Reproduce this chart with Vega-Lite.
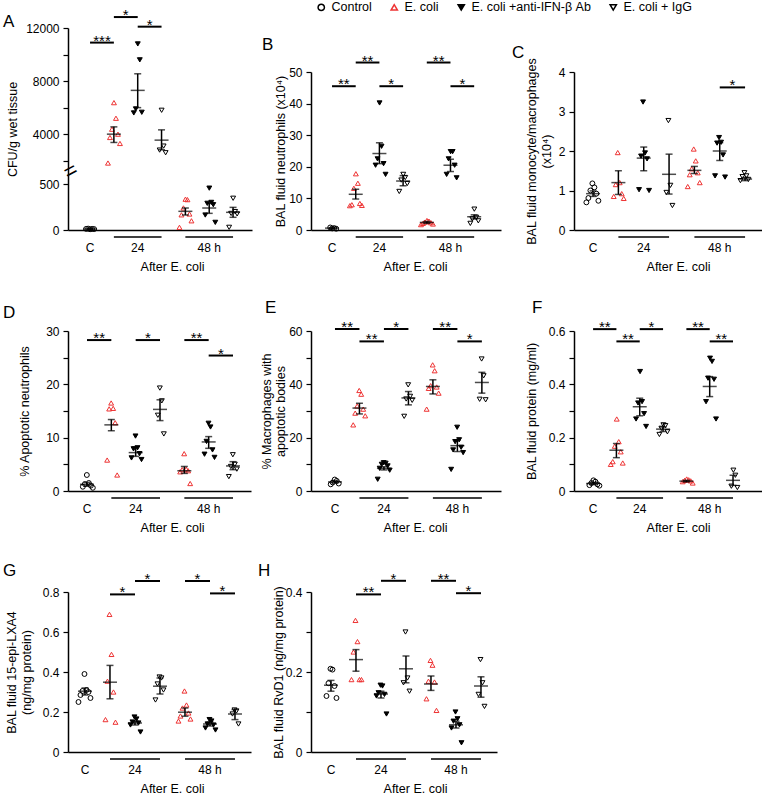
{
"$schema": "https://vega.github.io/schema/vega-lite/v6.json",
"padding": {"left": 3, "top": 1, "right": 0, "bottom": 0},
"datasets": {
"conds": [{"g":"C","cond":"Control"},{"g":"E24","cond":"E. coli"},{"g":"A24","cond":"E. coli +anti-IFN-β Ab"},{"g":"I24","cond":"E. coli + IgG"},{"g":"E48","cond":"E. coli"},{"g":"A48","cond":"E. coli +anti-IFN-β Ab"},{"g":"I48","cond":"E. coli + IgG"}],
"ul": [{"a":"E24","b":"I24"},{"a":"E48","b":"I48"}],
"pts": [
{"p":"A","g":"C","v":8},{"p":"A","g":"C","v":12},{"p":"A","g":"C","v":15},{"p":"A","g":"C","v":10},{"p":"A","g":"C","v":12},
{"p":"A","g":"E24","v":6375},{"p":"A","g":"E24","v":5200},{"p":"A","g":"E24","v":4375},{"p":"A","g":"E24","v":4000},{"p":"A","g":"E24","v":3750},{"p":"A","g":"E24","v":3300},{"p":"A","g":"E24","v":1825},
{"p":"A","g":"A24","v":10800},{"p":"A","g":"A24","v":9600},{"p":"A","g":"A24","v":5900},{"p":"A","g":"A24","v":5650},{"p":"A","g":"A24","v":5600},
{"p":"A","g":"I24","v":5800},{"p":"A","g":"I24","v":3100},{"p":"A","g":"I24","v":2800},{"p":"A","g":"I24","v":2600},
{"p":"A","g":"E48","v":335},{"p":"A","g":"E48","v":330},{"p":"A","g":"E48","v":240},{"p":"A","g":"E48","v":174},{"p":"A","g":"E48","v":165},{"p":"A","g":"E48","v":100},{"p":"A","g":"E48","v":29},
{"p":"A","g":"A48","v":455},{"p":"A","g":"A48","v":300},{"p":"A","g":"A48","v":290},{"p":"A","g":"A48","v":275},{"p":"A","g":"A48","v":163},{"p":"A","g":"A48","v":83},
{"p":"A","g":"I48","v":345},{"p":"A","g":"I48","v":200},{"p":"A","g":"I48","v":180},{"p":"A","g":"I48","v":175},{"p":"A","g":"I48","v":29},
{"p":"B","g":"C","v":0.5},{"p":"B","g":"C","v":0.6},{"p":"B","g":"C","v":0.8},{"p":"B","g":"C","v":0.4},
{"p":"B","g":"E24","v":17.8},{"p":"B","g":"E24","v":14.8},{"p":"B","g":"E24","v":13.2},{"p":"B","g":"E24","v":8.4},{"p":"B","g":"E24","v":8.0},{"p":"B","g":"E24","v":7.8},{"p":"B","g":"E24","v":7.7},
{"p":"B","g":"A24","v":40.2},{"p":"B","g":"A24","v":26.5},{"p":"B","g":"A24","v":22.5},{"p":"B","g":"A24","v":21},{"p":"B","g":"A24","v":20.5},{"p":"B","g":"A24","v":17.6},
{"p":"B","g":"I24","v":17.6},{"p":"B","g":"I24","v":16.6},{"p":"B","g":"I24","v":15.8},{"p":"B","g":"I24","v":14.7},{"p":"B","g":"I24","v":12.2},
{"p":"B","g":"E48","v":3.0},{"p":"B","g":"E48","v":2.8},{"p":"B","g":"E48","v":2.5},{"p":"B","g":"E48","v":2.3},{"p":"B","g":"E48","v":2.1},{"p":"B","g":"E48","v":1.9},{"p":"B","g":"E48","v":1.7},
{"p":"B","g":"A48","v":24.8},{"p":"B","g":"A48","v":24.8},{"p":"B","g":"A48","v":22.5},{"p":"B","g":"A48","v":20.5},{"p":"B","g":"A48","v":17.6},{"p":"B","g":"A48","v":16.5},
{"p":"B","g":"I48","v":6.6},{"p":"B","g":"I48","v":4.0},{"p":"B","g":"I48","v":3.5},{"p":"B","g":"I48","v":2.9},{"p":"B","g":"I48","v":2.1},
{"p":"C","g":"C","v":1.18},{"p":"C","g":"C","v":1.08},{"p":"C","g":"C","v":1.0},{"p":"C","g":"C","v":0.92},{"p":"C","g":"C","v":0.81},{"p":"C","g":"C","v":0.74},{"p":"C","g":"C","v":0.70},
{"p":"C","g":"E24","v":1.96},{"p":"C","g":"E24","v":1.2},{"p":"C","g":"E24","v":1.15},{"p":"C","g":"E24","v":0.92},{"p":"C","g":"E24","v":0.85},{"p":"C","g":"E24","v":0.8},
{"p":"C","g":"A24","v":3.24},{"p":"C","g":"A24","v":1.95},{"p":"C","g":"A24","v":1.87},{"p":"C","g":"A24","v":1.8},{"p":"C","g":"A24","v":1.02},{"p":"C","g":"A24","v":1.0},
{"p":"C","g":"I24","v":2.77},{"p":"C","g":"I24","v":1.13},{"p":"C","g":"I24","v":0.95},{"p":"C","g":"I24","v":0.62},
{"p":"C","g":"E48","v":2.05},{"p":"C","g":"E48","v":1.75},{"p":"C","g":"E48","v":1.55},{"p":"C","g":"E48","v":1.45},{"p":"C","g":"E48","v":1.4},{"p":"C","g":"E48","v":1.2},{"p":"C","g":"E48","v":1.1},
{"p":"C","g":"A48","v":2.34},{"p":"C","g":"A48","v":2.22},{"p":"C","g":"A48","v":2.2},{"p":"C","g":"A48","v":1.9},{"p":"C","g":"A48","v":1.37},{"p":"C","g":"A48","v":1.34},
{"p":"C","g":"I48","v":1.45},{"p":"C","g":"I48","v":1.37},{"p":"C","g":"I48","v":1.35},{"p":"C","g":"I48","v":1.28},{"p":"C","g":"I48","v":1.25},
{"p":"D","g":"C","v":3.0},{"p":"D","g":"C","v":1.5},{"p":"D","g":"C","v":1.3},{"p":"D","g":"C","v":1.0},{"p":"D","g":"C","v":0.8},{"p":"D","g":"C","v":0.6},
{"p":"D","g":"E24","v":16.5},{"p":"D","g":"E24","v":15.5},{"p":"D","g":"E24","v":15.4},{"p":"D","g":"E24","v":12.8},{"p":"D","g":"E24","v":5.8},{"p":"D","g":"E24","v":3.0},
{"p":"D","g":"A24","v":10.3},{"p":"D","g":"A24","v":8.1},{"p":"D","g":"A24","v":7.9},{"p":"D","g":"A24","v":7.0},{"p":"D","g":"A24","v":6.2},{"p":"D","g":"A24","v":5.9},
{"p":"D","g":"I24","v":19.3},{"p":"D","g":"I24","v":16.9},{"p":"D","g":"I24","v":14.2},{"p":"D","g":"I24","v":10.7},
{"p":"D","g":"E48","v":7.0},{"p":"D","g":"E48","v":4.1},{"p":"D","g":"E48","v":4.0},{"p":"D","g":"E48","v":3.8},{"p":"D","g":"E48","v":3.6},{"p":"D","g":"E48","v":1.4},
{"p":"D","g":"A48","v":12.7},{"p":"D","g":"A48","v":12.0},{"p":"D","g":"A48","v":9.3},{"p":"D","g":"A48","v":7.7},{"p":"D","g":"A48","v":6.9},{"p":"D","g":"A48","v":6.3},
{"p":"D","g":"I48","v":6.8},{"p":"D","g":"I48","v":5.0},{"p":"D","g":"I48","v":4.6},{"p":"D","g":"I48","v":4.1},{"p":"D","g":"I48","v":2.7},
{"p":"E","g":"C","v":4.3},{"p":"E","g":"C","v":3.8},{"p":"E","g":"C","v":3.2},{"p":"E","g":"C","v":2.8},{"p":"E","g":"C","v":2.5},
{"p":"E","g":"E24","v":37.7},{"p":"E","g":"E24","v":36.3},{"p":"E","g":"E24","v":31.9},{"p":"E","g":"E24","v":30.7},{"p":"E","g":"E24","v":29.2},{"p":"E","g":"E24","v":28.2},{"p":"E","g":"E24","v":24.8},
{"p":"E","g":"A24","v":10.6},{"p":"E","g":"A24","v":10.4},{"p":"E","g":"A24","v":10.0},{"p":"E","g":"A24","v":9.4},{"p":"E","g":"A24","v":8.5},{"p":"E","g":"A24","v":7.8},{"p":"E","g":"A24","v":4.4},
{"p":"E","g":"I24","v":39.8},{"p":"E","g":"I24","v":35.5},{"p":"E","g":"I24","v":34.5},{"p":"E","g":"I24","v":34.0},{"p":"E","g":"I24","v":28.0},
{"p":"E","g":"E48","v":47.3},{"p":"E","g":"E48","v":45.1},{"p":"E","g":"E48","v":39.5},{"p":"E","g":"E48","v":39.0},{"p":"E","g":"E48","v":38.5},{"p":"E","g":"E48","v":36.7},{"p":"E","g":"E48","v":30.7},
{"p":"E","g":"A48","v":23.9},{"p":"E","g":"A48","v":19.2},{"p":"E","g":"A48","v":18.5},{"p":"E","g":"A48","v":16.4},{"p":"E","g":"A48","v":15.4},{"p":"E","g":"A48","v":14.4},{"p":"E","g":"A48","v":8.1},
{"p":"E","g":"I48","v":49.5},{"p":"E","g":"I48","v":43.2},{"p":"E","g":"I48","v":34.4},{"p":"E","g":"I48","v":34.2},
{"p":"F","g":"C","v":0.04},{"p":"F","g":"C","v":0.035},{"p":"F","g":"C","v":0.03},{"p":"F","g":"C","v":0.025},{"p":"F","g":"C","v":0.022},{"p":"F","g":"C","v":0.02},
{"p":"F","g":"E24","v":0.27},{"p":"F","g":"E24","v":0.185},{"p":"F","g":"E24","v":0.168},{"p":"F","g":"E24","v":0.147},{"p":"F","g":"E24","v":0.11},{"p":"F","g":"E24","v":0.105},{"p":"F","g":"E24","v":0.10},
{"p":"F","g":"A24","v":0.448},{"p":"F","g":"A24","v":0.335},{"p":"F","g":"A24","v":0.33},{"p":"F","g":"A24","v":0.29},{"p":"F","g":"A24","v":0.27},{"p":"F","g":"A24","v":0.242},
{"p":"F","g":"I24","v":0.248},{"p":"F","g":"I24","v":0.245},{"p":"F","g":"I24","v":0.235},{"p":"F","g":"I24","v":0.222},{"p":"F","g":"I24","v":0.212},
{"p":"F","g":"E48","v":0.045},{"p":"F","g":"E48","v":0.042},{"p":"F","g":"E48","v":0.04},{"p":"F","g":"E48","v":0.038},{"p":"F","g":"E48","v":0.035},{"p":"F","g":"E48","v":0.03},
{"p":"F","g":"A48","v":0.498},{"p":"F","g":"A48","v":0.486},{"p":"F","g":"A48","v":0.423},{"p":"F","g":"A48","v":0.419},{"p":"F","g":"A48","v":0.335},{"p":"F","g":"A48","v":0.27},
{"p":"F","g":"I48","v":0.078},{"p":"F","g":"I48","v":0.059},{"p":"F","g":"I48","v":0.018},{"p":"F","g":"I48","v":0.013},
{"p":"G","g":"C","v":0.39},{"p":"G","g":"C","v":0.31},{"p":"G","g":"C","v":0.305},{"p":"G","g":"C","v":0.30},{"p":"G","g":"C","v":0.285},{"p":"G","g":"C","v":0.27},{"p":"G","g":"C","v":0.25},
{"p":"G","g":"E24","v":0.688},{"p":"G","g":"E24","v":0.488},{"p":"G","g":"E24","v":0.354},{"p":"G","g":"E24","v":0.30},{"p":"G","g":"E24","v":0.162},{"p":"G","g":"E24","v":0.149},
{"p":"G","g":"A24","v":0.175},{"p":"G","g":"A24","v":0.165},{"p":"G","g":"A24","v":0.15},{"p":"G","g":"A24","v":0.145},{"p":"G","g":"A24","v":0.135},{"p":"G","g":"A24","v":0.10},
{"p":"G","g":"I24","v":0.375},{"p":"G","g":"I24","v":0.37},{"p":"G","g":"I24","v":0.34},{"p":"G","g":"I24","v":0.31},{"p":"G","g":"I24","v":0.26},
{"p":"G","g":"E48","v":0.305},{"p":"G","g":"E48","v":0.235},{"p":"G","g":"E48","v":0.22},{"p":"G","g":"E48","v":0.195},{"p":"G","g":"E48","v":0.18},{"p":"G","g":"E48","v":0.165},{"p":"G","g":"E48","v":0.155},
{"p":"G","g":"A48","v":0.162},{"p":"G","g":"A48","v":0.155},{"p":"G","g":"A48","v":0.14},{"p":"G","g":"A48","v":0.135},{"p":"G","g":"A48","v":0.12},{"p":"G","g":"A48","v":0.11},
{"p":"G","g":"I48","v":0.21},{"p":"G","g":"I48","v":0.205},{"p":"G","g":"I48","v":0.19},{"p":"G","g":"I48","v":0.14},
{"p":"H","g":"C","v":0.208},{"p":"H","g":"C","v":0.206},{"p":"H","g":"C","v":0.172},{"p":"H","g":"C","v":0.165},{"p":"H","g":"C","v":0.14},{"p":"H","g":"C","v":0.135},
{"p":"H","g":"E24","v":0.329},{"p":"H","g":"E24","v":0.276},{"p":"H","g":"E24","v":0.25},{"p":"H","g":"E24","v":0.181},{"p":"H","g":"E24","v":0.181},{"p":"H","g":"E24","v":0.181},
{"p":"H","g":"A24","v":0.167},{"p":"H","g":"A24","v":0.165},{"p":"H","g":"A24","v":0.148},{"p":"H","g":"A24","v":0.144},{"p":"H","g":"A24","v":0.14},{"p":"H","g":"A24","v":0.095},
{"p":"H","g":"I24","v":0.30},{"p":"H","g":"I24","v":0.185},{"p":"H","g":"I24","v":0.173},{"p":"H","g":"I24","v":0.152},
{"p":"H","g":"E48","v":0.229},{"p":"H","g":"E48","v":0.217},{"p":"H","g":"E48","v":0.177},{"p":"H","g":"E48","v":0.175},{"p":"H","g":"E48","v":0.133},{"p":"H","g":"E48","v":0.104},
{"p":"H","g":"A48","v":0.10},{"p":"H","g":"A48","v":0.083},{"p":"H","g":"A48","v":0.077},{"p":"H","g":"A48","v":0.068},{"p":"H","g":"A48","v":0.06},{"p":"H","g":"A48","v":0.023},
{"p":"H","g":"I48","v":0.231},{"p":"H","g":"I48","v":0.173},{"p":"H","g":"I48","v":0.144},{"p":"H","g":"I48","v":0.114}
],
"st": [
{"p":"A","g":"C","m":11,"lo":9,"hi":13},{"p":"A","g":"E24","m":4000,"lo":3375,"hi":4550},{"p":"A","g":"A24","m":7300,"lo":6000,"hi":8550},{"p":"A","g":"I24","m":3550,"lo":2825,"hi":4325},{"p":"A","g":"E48","m":203,"lo":163,"hi":239},{"p":"A","g":"A48","m":239,"lo":181,"hi":297},{"p":"A","g":"I48","m":192,"lo":138,"hi":246},
{"p":"B","g":"C","m":0.6,"lo":0.5,"hi":0.7},{"p":"B","g":"E24","m":11.3,"lo":9.8,"hi":12.9},{"p":"B","g":"A24","m":24.2,"lo":21.0,"hi":27.6},{"p":"B","g":"I24","m":15.5,"lo":14.0,"hi":17.2},{"p":"B","g":"E48","m":2.4,"lo":2.1,"hi":2.7},{"p":"B","g":"A48","m":20.5,"lo":18.5,"hi":22.4},{"p":"B","g":"I48","m":4.2,"lo":3.5,"hi":4.8},
{"p":"C","g":"C","m":0.92,"lo":0.85,"hi":0.99},{"p":"C","g":"E24","m":1.2,"lo":0.9,"hi":1.5},{"p":"C","g":"A24","m":1.82,"lo":1.5,"hi":2.1},{"p":"C","g":"I24","m":1.41,"lo":0.91,"hi":1.92},{"p":"C","g":"E48","m":1.51,"lo":1.43,"hi":1.61},{"p":"C","g":"A48","m":2.0,"lo":1.76,"hi":2.21},{"p":"C","g":"I48","m":1.29,"lo":1.25,"hi":1.33},
{"p":"D","g":"C","m":1.26,"lo":0.9,"hi":1.6},{"p":"D","g":"E24","m":12.4,"lo":11.3,"hi":13.4},{"p":"D","g":"A24","m":7.2,"lo":6.5,"hi":8.3},{"p":"D","g":"I24","m":15.3,"lo":13.2,"hi":17.1},{"p":"D","g":"E48","m":3.8,"lo":3.3,"hi":4.6},{"p":"D","g":"A48","m":9.2,"lo":8.0,"hi":10.2},{"p":"D","g":"I48","m":4.7,"lo":4.0,"hi":5.5},
{"p":"E","g":"C","m":3.4,"lo":3.0,"hi":3.8},{"p":"E","g":"E24","m":31.1,"lo":28.9,"hi":32.9},{"p":"E","g":"A24","m":8.5,"lo":7.9,"hi":9.1},{"p":"E","g":"I24","m":34.9,"lo":32.3,"hi":37.3},{"p":"E","g":"E48","m":39.2,"lo":36.4,"hi":41.7},{"p":"E","g":"A48","m":17.0,"lo":14.8,"hi":19.2},{"p":"E","g":"I48","m":40.7,"lo":36.7,"hi":44.5},
{"p":"F","g":"C","m":0.028,"lo":0.024,"hi":0.032},{"p":"F","g":"E24","m":0.153,"lo":0.125,"hi":0.178},{"p":"F","g":"A24","m":0.316,"lo":0.282,"hi":0.348},{"p":"F","g":"I24","m":0.232,"lo":0.223,"hi":0.24},{"p":"F","g":"E48","m":0.037,"lo":0.034,"hi":0.04},{"p":"F","g":"A48","m":0.392,"lo":0.354,"hi":0.429},{"p":"F","g":"I48","m":0.04,"lo":0.021,"hi":0.059},
{"p":"G","g":"C","m":0.304,"lo":0.285,"hi":0.32},{"p":"G","g":"E24","m":0.349,"lo":0.266,"hi":0.433},{"p":"G","g":"A24","m":0.145,"lo":0.135,"hi":0.155},{"p":"G","g":"I24","m":0.329,"lo":0.29,"hi":0.37},{"p":"G","g":"E48","m":0.199,"lo":0.179,"hi":0.22},{"p":"G","g":"A48","m":0.14,"lo":0.13,"hi":0.15},{"p":"G","g":"I48","m":0.19,"lo":0.162,"hi":0.212},
{"p":"H","g":"C","m":0.167,"lo":0.152,"hi":0.179},{"p":"H","g":"E24","m":0.231,"lo":0.202,"hi":0.256},{"p":"H","g":"A24","m":0.145,"lo":0.135,"hi":0.152},{"p":"H","g":"I24","m":0.208,"lo":0.173,"hi":0.24},{"p":"H","g":"E48","m":0.17,"lo":0.154,"hi":0.19},{"p":"H","g":"A48","m":0.068,"lo":0.06,"hi":0.077},{"p":"H","g":"I48","m":0.165,"lo":0.137,"hi":0.188}
],
"sig": [
{"p":"A","g1":"C","g2":"E24","y":10900,"s":"***"},{"p":"A","g1":"E24","g2":"A24","y":12825,"s":"*"},{"p":"A","g1":"A24","g2":"I24","y":12100,"s":"*"},
{"p":"B","g1":"C","g2":"E24","y":45.5,"s":"**"},{"p":"B","g1":"E24","g2":"A24","y":53,"s":"**"},{"p":"B","g1":"A24","g2":"I24","y":45.5,"s":"*"},{"p":"B","g1":"E48","g2":"A48","y":53,"s":"**"},{"p":"B","g1":"A48","g2":"I48","y":45.5,"s":"*"},
{"p":"C","g1":"A48","g2":"I48","y":3.61,"s":"*"},
{"p":"D","g1":"C","g2":"E24","y":28.3,"s":"**"},{"p":"D","g1":"A24","g2":"I24","y":28.3,"s":"*"},{"p":"D","g1":"E48","g2":"A48","y":28.3,"s":"**"},{"p":"D","g1":"A48","g2":"I48","y":25.4,"s":"*"},
{"p":"E","g1":"C","g2":"E24","y":60.75,"s":"**"},{"p":"E","g1":"E24","g2":"A24","y":56.1,"s":"**"},{"p":"E","g1":"A24","g2":"I24","y":60.75,"s":"*"},{"p":"E","g1":"E48","g2":"A48","y":60.75,"s":"**"},{"p":"E","g1":"A48","g2":"I48","y":56.1,"s":"*"},
{"p":"F","g1":"C","g2":"E24","y":0.607,"s":"**"},{"p":"F","g1":"E24","g2":"A24","y":0.561,"s":"**"},{"p":"F","g1":"A24","g2":"I24","y":0.607,"s":"*"},{"p":"F","g1":"E48","g2":"A48","y":0.607,"s":"**"},{"p":"F","g1":"A48","g2":"I48","y":0.561,"s":"**"},
{"p":"G","g1":"E24","g2":"A24","y":0.788,"s":"*"},{"p":"G","g1":"A24","g2":"I24","y":0.855,"s":"*"},{"p":"G","g1":"E48","g2":"A48","y":0.855,"s":"*"},{"p":"G","g1":"A48","g2":"I48","y":0.793,"s":"*"},
{"p":"H","g1":"E24","g2":"A24","y":0.394,"s":"**"},{"p":"H","g1":"A24","g2":"I24","y":0.428,"s":"*"},{"p":"H","g1":"E48","g2":"A48","y":0.428,"s":"**"},{"p":"H","g1":"A48","g2":"I48","y":0.397,"s":"*"}
]
},
"columns": 3,
"spacing": {"row": 101, "column": 0},
"bounds": "flush",
"concat": [
{"width": 243, "height": 202,
 "title": {"text": "A", "dx": -65, "offset": -23},
 "encoding": {"x": {"field": "g", "type": "nominal", "scale": {"domain": ["C","E24","A24","I24","E48","A48","I48"], "range": [0,184], "paddingInner": 0, "paddingOuter": 0.36, "align": 0.59}, "axis": {"title": "After E. coli", "titleX": 104, "ticks": false, "labelPadding": 12.5, "titlePadding": 7, "labelAngle": 0, "labelOverlap": false, "labelExpr": "datum.value=='C'?'C':datum.value=='A24'?'24':datum.value=='A48'?'48 h':''"}}},
 "layer": [
  {"data": {"name": "pts"}, "transform": [{"filter": "datum.p=='A'"}, {"window": [{"op": "row_number", "as": "k"}], "groupby": ["g"]}, {"lookup": "g", "from": {"data": {"name": "conds"}, "key": "g", "fields": ["cond"]}}],
   "mark": {"type": "point", "size": 24, "strokeWidth": 1, "opacity": 1},
   "encoding": {
    "xOffset": {"field": "k", "type": "nominal", "scale": {"type": "point", "domain": [7,5,3,1,2,4,6], "range": [6,18], "padding": 0}},
    "y": {"field": "v", "type": "quantitative", "scale": {"domain": [0,500,1300,12000], "range": [202,156,142,0], "nice": false, "zero": false}, "axis": {"title": "CFU/g wet tissue", "titlePadding": 6, "tickCount": 30, "values": [0,500,2000,4000,6000,8000,10000,12000], "format": "d", "labelOverlap": false, "labelExpr": "indexof([2000,6000,10000], datum.value) >= 0 ? '' : datum.label"}},
    "shape": {"field": "cond", "type": "nominal", "scale": {"domain": ["Control","E. coli","E. coli +anti-IFN-β Ab","E. coli + IgG"], "range": ["circle","triangle-up","triangle-down","triangle-down"]}, "legend": {"title": null, "orient": "none", "legendX": 247, "legendY": -27, "direction": "horizontal", "columns": 4}},
    "stroke": {"field": "cond", "type": "nominal", "scale": {"domain": ["Control","E. coli","E. coli +anti-IFN-β Ab","E. coli + IgG"], "range": ["#000000","#ee3333","#000000","#000000"]}, "legend": {"title": null, "orient": "none", "legendX": 247, "legendY": -27, "direction": "horizontal", "columns": 4}},
    "fill": {"field": "cond", "type": "nominal", "scale": {"domain": ["Control","E. coli","E. coli +anti-IFN-β Ab","E. coli + IgG"], "range": ["transparent","transparent","#000000","transparent"]}, "legend": {"title": null, "orient": "none", "legendX": 247, "legendY": -27, "direction": "horizontal", "columns": 4}}
   }},
  {"data": {"name": "st"}, "transform": [{"filter": "datum.p=='A'"}], "mark": {"type": "tick", "size": 14, "thickness": 1.5, "color": "#000"}, "encoding": {"y": {"field": "m", "type": "quantitative"}}},
  {"data": {"name": "st"}, "transform": [{"filter": "datum.p=='A'"}], "mark": {"type": "rule", "strokeWidth": 1.5, "color": "#000"}, "encoding": {"y": {"field": "lo", "type": "quantitative"}, "y2": {"field": "hi"}}},
  {"data": {"name": "st"}, "transform": [{"filter": "datum.p=='A'"}], "mark": {"type": "tick", "size": 7, "thickness": 1.5, "color": "#000"}, "encoding": {"y": {"field": "lo", "type": "quantitative"}}},
  {"data": {"name": "st"}, "transform": [{"filter": "datum.p=='A'"}], "mark": {"type": "tick", "size": 7, "thickness": 1.5, "color": "#000"}, "encoding": {"y": {"field": "hi", "type": "quantitative"}}},
  {"data": {"name": "sig"}, "transform": [{"filter": "datum.p=='A'"}], "mark": {"type": "rule", "strokeWidth": 2, "color": "#000", "clip": false}, "encoding": {"x": {"field": "g1", "type": "nominal"}, "x2": {"field": "g2"}, "y": {"field": "y", "type": "quantitative"}}},
  {"data": {"name": "sig"}, "transform": [{"filter": "datum.p=='A'"}], "mark": {"type": "text", "fontSize": 15, "baseline": "alphabetic", "dy": 3, "color": "#000", "clip": false}, "encoding": {"x": {"field": "g1", "type": "nominal", "bandPosition": 1}, "y": {"field": "y", "type": "quantitative"}, "text": {"field": "s"}}},
  {"data": {"name": "ul"}, "mark": {"type": "rule", "strokeWidth": 1.5, "color": "#000", "clip": false}, "encoding": {"x": {"field": "a", "type": "nominal"}, "x2": {"field": "b"}, "y": {"datum": -76}}},
  {"data": {"values": [{}]}, "mark": {"type": "text", "text": "=", "fontSize": 22, "angle": -28, "dx": -22, "color": "#000", "baseline": "middle"}, "encoding": {"x": {"datum": "C"}, "y": {"datum": 2000}}}
 ]},
{"width": 263, "height": 202,
 "title": {"text": "B", "dx": -49, "offset": -25.5},
 "encoding": {"x": {"field": "g", "type": "nominal", "scale": {"domain": ["C","E24","A24","I24","E48","A48","I48"], "range": [0,190], "paddingInner": 0, "paddingOuter": 0.51, "align": 0.38}, "axis": {"title": "After E. coli", "titleX": 104, "ticks": false, "labelPadding": 12.5, "titlePadding": 7, "labelAngle": 0, "labelOverlap": false, "labelExpr": "datum.value=='C'?'C':datum.value=='A24'?'24':datum.value=='A48'?'48 h':''"}}},
 "layer": [
  {"data": {"name": "pts"}, "transform": [{"filter": "datum.p=='B'"}, {"window": [{"op": "row_number", "as": "k"}], "groupby": ["g"]}, {"lookup": "g", "from": {"data": {"name": "conds"}, "key": "g", "fields": ["cond"]}}],
   "mark": {"type": "point", "size": 24, "strokeWidth": 1, "opacity": 1},
   "encoding": {
    "xOffset": {"field": "k", "type": "nominal", "scale": {"type": "point", "domain": [7,5,3,1,2,4,6], "range": [6,18], "padding": 0}},
    "y": {"field": "v", "type": "quantitative", "scale": {"domain": [0,50], "range": [202,44], "nice": false, "zero": false}, "axis": {"title": "BAL fluid neutrophils (x10⁴)", "titlePadding": 1, "tickCount": 30, "values": [0,10,20,30,40,50]}},
    "shape": {"field": "cond", "type": "nominal", "scale": {"domain": ["Control","E. coli","E. coli +anti-IFN-β Ab","E. coli + IgG"], "range": ["circle","triangle-up","triangle-down","triangle-down"]}, "legend": {"title": null, "orient": "none", "legendX": 247, "legendY": -27, "direction": "horizontal", "columns": 4}},
    "stroke": {"field": "cond", "type": "nominal", "scale": {"domain": ["Control","E. coli","E. coli +anti-IFN-β Ab","E. coli + IgG"], "range": ["#000000","#ee3333","#000000","#000000"]}, "legend": {"title": null, "orient": "none", "legendX": 247, "legendY": -27, "direction": "horizontal", "columns": 4}},
    "fill": {"field": "cond", "type": "nominal", "scale": {"domain": ["Control","E. coli","E. coli +anti-IFN-β Ab","E. coli + IgG"], "range": ["transparent","transparent","#000000","transparent"]}, "legend": {"title": null, "orient": "none", "legendX": 247, "legendY": -27, "direction": "horizontal", "columns": 4}}
   }},
  {"data": {"name": "st"}, "transform": [{"filter": "datum.p=='B'"}], "mark": {"type": "tick", "size": 14, "thickness": 1.5, "color": "#000"}, "encoding": {"y": {"field": "m", "type": "quantitative"}}},
  {"data": {"name": "st"}, "transform": [{"filter": "datum.p=='B'"}], "mark": {"type": "rule", "strokeWidth": 1.5, "color": "#000"}, "encoding": {"y": {"field": "lo", "type": "quantitative"}, "y2": {"field": "hi"}}},
  {"data": {"name": "st"}, "transform": [{"filter": "datum.p=='B'"}], "mark": {"type": "tick", "size": 7, "thickness": 1.5, "color": "#000"}, "encoding": {"y": {"field": "lo", "type": "quantitative"}}},
  {"data": {"name": "st"}, "transform": [{"filter": "datum.p=='B'"}], "mark": {"type": "tick", "size": 7, "thickness": 1.5, "color": "#000"}, "encoding": {"y": {"field": "hi", "type": "quantitative"}}},
  {"data": {"name": "sig"}, "transform": [{"filter": "datum.p=='B'"}], "mark": {"type": "rule", "strokeWidth": 2, "color": "#000", "clip": false}, "encoding": {"x": {"field": "g1", "type": "nominal"}, "x2": {"field": "g2"}, "y": {"field": "y", "type": "quantitative"}}},
  {"data": {"name": "sig"}, "transform": [{"filter": "datum.p=='B'"}], "mark": {"type": "text", "fontSize": 15, "baseline": "alphabetic", "dy": 3, "color": "#000", "clip": false}, "encoding": {"x": {"field": "g1", "type": "nominal", "bandPosition": 1}, "y": {"field": "y", "type": "quantitative"}, "text": {"field": "s"}}},
  {"data": {"name": "ul"}, "mark": {"type": "rule", "strokeWidth": 1.5, "color": "#000", "clip": false}, "encoding": {"x": {"field": "a", "type": "nominal"}, "x2": {"field": "b"}, "y": {"datum": -2.2}}}
 ]},
{"width": 188, "height": 202,
 "title": {"text": "C", "dx": -62, "offset": -34},
 "encoding": {"x": {"field": "g", "type": "nominal", "scale": {"domain": ["C","E24","A24","I24","E48","A48","I48"], "range": [0,188], "paddingInner": 0, "paddingOuter": 0.21, "align": 0.6}, "axis": {"title": "After E. coli", "titleX": 104, "ticks": false, "labelPadding": 12.5, "titlePadding": 7, "labelAngle": 0, "labelOverlap": false, "labelExpr": "datum.value=='C'?'C':datum.value=='A24'?'24':datum.value=='A48'?'48 h':''"}}},
 "layer": [
  {"data": {"name": "pts"}, "transform": [{"filter": "datum.p=='C'"}, {"window": [{"op": "row_number", "as": "k"}], "groupby": ["g"]}, {"lookup": "g", "from": {"data": {"name": "conds"}, "key": "g", "fields": ["cond"]}}],
   "mark": {"type": "point", "size": 24, "strokeWidth": 1, "opacity": 1},
   "encoding": {
    "xOffset": {"field": "k", "type": "nominal", "scale": {"type": "point", "domain": [7,5,3,1,2,4,6], "range": [6,18], "padding": 0}},
    "y": {"field": "v", "type": "quantitative", "scale": {"domain": [0,4], "range": [202,44], "nice": false, "zero": false}, "axis": {"title": ["BAL fluid monocyte/macrophages","(x10⁴)"], "titlePadding": 5, "tickCount": 30, "values": [0,1,2,3,4], "format": "d"}},
    "shape": {"field": "cond", "type": "nominal", "scale": {"domain": ["Control","E. coli","E. coli +anti-IFN-β Ab","E. coli + IgG"], "range": ["circle","triangle-up","triangle-down","triangle-down"]}, "legend": {"title": null, "orient": "none", "legendX": 247, "legendY": -27, "direction": "horizontal", "columns": 4}},
    "stroke": {"field": "cond", "type": "nominal", "scale": {"domain": ["Control","E. coli","E. coli +anti-IFN-β Ab","E. coli + IgG"], "range": ["#000000","#ee3333","#000000","#000000"]}, "legend": {"title": null, "orient": "none", "legendX": 247, "legendY": -27, "direction": "horizontal", "columns": 4}},
    "fill": {"field": "cond", "type": "nominal", "scale": {"domain": ["Control","E. coli","E. coli +anti-IFN-β Ab","E. coli + IgG"], "range": ["transparent","transparent","#000000","transparent"]}, "legend": {"title": null, "orient": "none", "legendX": 247, "legendY": -27, "direction": "horizontal", "columns": 4}}
   }},
  {"data": {"name": "st"}, "transform": [{"filter": "datum.p=='C'"}], "mark": {"type": "tick", "size": 14, "thickness": 1.5, "color": "#000"}, "encoding": {"y": {"field": "m", "type": "quantitative"}}},
  {"data": {"name": "st"}, "transform": [{"filter": "datum.p=='C'"}], "mark": {"type": "rule", "strokeWidth": 1.5, "color": "#000"}, "encoding": {"y": {"field": "lo", "type": "quantitative"}, "y2": {"field": "hi"}}},
  {"data": {"name": "st"}, "transform": [{"filter": "datum.p=='C'"}], "mark": {"type": "tick", "size": 7, "thickness": 1.5, "color": "#000"}, "encoding": {"y": {"field": "lo", "type": "quantitative"}}},
  {"data": {"name": "st"}, "transform": [{"filter": "datum.p=='C'"}], "mark": {"type": "tick", "size": 7, "thickness": 1.5, "color": "#000"}, "encoding": {"y": {"field": "hi", "type": "quantitative"}}},
  {"data": {"name": "sig"}, "transform": [{"filter": "datum.p=='C'"}], "mark": {"type": "rule", "strokeWidth": 2, "color": "#000", "clip": false}, "encoding": {"x": {"field": "g1", "type": "nominal"}, "x2": {"field": "g2"}, "y": {"field": "y", "type": "quantitative"}}},
  {"data": {"name": "sig"}, "transform": [{"filter": "datum.p=='C'"}], "mark": {"type": "text", "fontSize": 15, "baseline": "alphabetic", "dy": 3, "color": "#000", "clip": false}, "encoding": {"x": {"field": "g1", "type": "nominal", "bandPosition": 1}, "y": {"field": "y", "type": "quantitative"}, "text": {"field": "s"}}},
  {"data": {"name": "ul"}, "mark": {"type": "rule", "strokeWidth": 1.5, "color": "#000", "clip": false}, "encoding": {"x": {"field": "a", "type": "nominal"}, "x2": {"field": "b"}, "y": {"datum": -0.18}}}
 ]},
{"width": 243, "height": 160,
 "title": {"text": "D", "dx": -65, "offset": 3.5},
 "encoding": {"x": {"field": "g", "type": "nominal", "scale": {"domain": ["C","E24","A24","I24","E48","A48","I48"], "range": [0,183], "paddingInner": 0, "paddingOuter": 0.26, "align": 0.54}, "axis": {"title": "After E. coli", "titleX": 104, "ticks": false, "labelPadding": 12.5, "titlePadding": 7, "labelAngle": 0, "labelOverlap": false, "labelExpr": "datum.value=='C'?'C':datum.value=='A24'?'24':datum.value=='A48'?'48 h':''"}}},
 "layer": [
  {"data": {"name": "pts"}, "transform": [{"filter": "datum.p=='D'"}, {"window": [{"op": "row_number", "as": "k"}], "groupby": ["g"]}, {"lookup": "g", "from": {"data": {"name": "conds"}, "key": "g", "fields": ["cond"]}}],
   "mark": {"type": "point", "size": 24, "strokeWidth": 1, "opacity": 1},
   "encoding": {
    "xOffset": {"field": "k", "type": "nominal", "scale": {"type": "point", "domain": [7,5,3,1,2,4,6], "range": [6,18], "padding": 0}},
    "y": {"field": "v", "type": "quantitative", "scale": {"domain": [0,30], "nice": false, "zero": false}, "axis": {"title": "% Apoptotic neutrophils", "titlePadding": 14, "tickCount": 30, "values": [0,5,10,15,20,25,30], "labelExpr": "datum.value%10==0?datum.label:''"}},
    "shape": {"field": "cond", "type": "nominal", "scale": {"domain": ["Control","E. coli","E. coli +anti-IFN-β Ab","E. coli + IgG"], "range": ["circle","triangle-up","triangle-down","triangle-down"]}, "legend": {"title": null, "orient": "none", "legendX": 247, "legendY": -27, "direction": "horizontal", "columns": 4}},
    "stroke": {"field": "cond", "type": "nominal", "scale": {"domain": ["Control","E. coli","E. coli +anti-IFN-β Ab","E. coli + IgG"], "range": ["#000000","#ee3333","#000000","#000000"]}, "legend": {"title": null, "orient": "none", "legendX": 247, "legendY": -27, "direction": "horizontal", "columns": 4}},
    "fill": {"field": "cond", "type": "nominal", "scale": {"domain": ["Control","E. coli","E. coli +anti-IFN-β Ab","E. coli + IgG"], "range": ["transparent","transparent","#000000","transparent"]}, "legend": {"title": null, "orient": "none", "legendX": 247, "legendY": -27, "direction": "horizontal", "columns": 4}}
   }},
  {"data": {"name": "st"}, "transform": [{"filter": "datum.p=='D'"}], "mark": {"type": "tick", "size": 14, "thickness": 1.5, "color": "#000"}, "encoding": {"y": {"field": "m", "type": "quantitative"}}},
  {"data": {"name": "st"}, "transform": [{"filter": "datum.p=='D'"}], "mark": {"type": "rule", "strokeWidth": 1.5, "color": "#000"}, "encoding": {"y": {"field": "lo", "type": "quantitative"}, "y2": {"field": "hi"}}},
  {"data": {"name": "st"}, "transform": [{"filter": "datum.p=='D'"}], "mark": {"type": "tick", "size": 7, "thickness": 1.5, "color": "#000"}, "encoding": {"y": {"field": "lo", "type": "quantitative"}}},
  {"data": {"name": "st"}, "transform": [{"filter": "datum.p=='D'"}], "mark": {"type": "tick", "size": 7, "thickness": 1.5, "color": "#000"}, "encoding": {"y": {"field": "hi", "type": "quantitative"}}},
  {"data": {"name": "sig"}, "transform": [{"filter": "datum.p=='D'"}], "mark": {"type": "rule", "strokeWidth": 2, "color": "#000", "clip": false}, "encoding": {"x": {"field": "g1", "type": "nominal"}, "x2": {"field": "g2"}, "y": {"field": "y", "type": "quantitative"}}},
  {"data": {"name": "sig"}, "transform": [{"filter": "datum.p=='D'"}], "mark": {"type": "text", "fontSize": 15, "baseline": "alphabetic", "dy": 3, "color": "#000", "clip": false}, "encoding": {"x": {"field": "g1", "type": "nominal", "bandPosition": 1}, "y": {"field": "y", "type": "quantitative"}, "text": {"field": "s"}}},
  {"data": {"name": "ul"}, "mark": {"type": "rule", "strokeWidth": 1.5, "color": "#000", "clip": false}, "encoding": {"x": {"field": "a", "type": "nominal"}, "x2": {"field": "b"}, "y": {"datum": -1.3}}}
 ]},
{"width": 263, "height": 160,
 "title": {"text": "E", "dx": -46, "offset": 3.5},
 "encoding": {"x": {"field": "g", "type": "nominal", "scale": {"domain": ["C","E24","A24","I24","E48","A48","I48"], "range": [0,190], "paddingInner": 0, "paddingOuter": 0.38, "align": 0.63}, "axis": {"title": "After E. coli", "titleX": 104, "ticks": false, "labelPadding": 12.5, "titlePadding": 7, "labelAngle": 0, "labelOverlap": false, "labelExpr": "datum.value=='C'?'C':datum.value=='A24'?'24':datum.value=='A48'?'48 h':''"}}},
 "layer": [
  {"data": {"name": "pts"}, "transform": [{"filter": "datum.p=='E'"}, {"window": [{"op": "row_number", "as": "k"}], "groupby": ["g"]}, {"lookup": "g", "from": {"data": {"name": "conds"}, "key": "g", "fields": ["cond"]}}],
   "mark": {"type": "point", "size": 24, "strokeWidth": 1, "opacity": 1},
   "encoding": {
    "xOffset": {"field": "k", "type": "nominal", "scale": {"type": "point", "domain": [7,5,3,1,2,4,6], "range": [6,18], "padding": 0}},
    "y": {"field": "v", "type": "quantitative", "scale": {"domain": [0,60], "nice": false, "zero": false}, "axis": {"title": ["% Macrophages with","apoptotic bodies"], "titlePadding": 1, "tickCount": 30, "values": [0,10,20,30,40,50,60], "labelExpr": "datum.value%20==0?datum.label:''"}},
    "shape": {"field": "cond", "type": "nominal", "scale": {"domain": ["Control","E. coli","E. coli +anti-IFN-β Ab","E. coli + IgG"], "range": ["circle","triangle-up","triangle-down","triangle-down"]}, "legend": {"title": null, "orient": "none", "legendX": 247, "legendY": -27, "direction": "horizontal", "columns": 4}},
    "stroke": {"field": "cond", "type": "nominal", "scale": {"domain": ["Control","E. coli","E. coli +anti-IFN-β Ab","E. coli + IgG"], "range": ["#000000","#ee3333","#000000","#000000"]}, "legend": {"title": null, "orient": "none", "legendX": 247, "legendY": -27, "direction": "horizontal", "columns": 4}},
    "fill": {"field": "cond", "type": "nominal", "scale": {"domain": ["Control","E. coli","E. coli +anti-IFN-β Ab","E. coli + IgG"], "range": ["transparent","transparent","#000000","transparent"]}, "legend": {"title": null, "orient": "none", "legendX": 247, "legendY": -27, "direction": "horizontal", "columns": 4}}
   }},
  {"data": {"name": "st"}, "transform": [{"filter": "datum.p=='E'"}], "mark": {"type": "tick", "size": 14, "thickness": 1.5, "color": "#000"}, "encoding": {"y": {"field": "m", "type": "quantitative"}}},
  {"data": {"name": "st"}, "transform": [{"filter": "datum.p=='E'"}], "mark": {"type": "rule", "strokeWidth": 1.5, "color": "#000"}, "encoding": {"y": {"field": "lo", "type": "quantitative"}, "y2": {"field": "hi"}}},
  {"data": {"name": "st"}, "transform": [{"filter": "datum.p=='E'"}], "mark": {"type": "tick", "size": 7, "thickness": 1.5, "color": "#000"}, "encoding": {"y": {"field": "lo", "type": "quantitative"}}},
  {"data": {"name": "st"}, "transform": [{"filter": "datum.p=='E'"}], "mark": {"type": "tick", "size": 7, "thickness": 1.5, "color": "#000"}, "encoding": {"y": {"field": "hi", "type": "quantitative"}}},
  {"data": {"name": "sig"}, "transform": [{"filter": "datum.p=='E'"}], "mark": {"type": "rule", "strokeWidth": 2, "color": "#000", "clip": false}, "encoding": {"x": {"field": "g1", "type": "nominal"}, "x2": {"field": "g2"}, "y": {"field": "y", "type": "quantitative"}}},
  {"data": {"name": "sig"}, "transform": [{"filter": "datum.p=='E'"}], "mark": {"type": "text", "fontSize": 15, "baseline": "alphabetic", "dy": 3, "color": "#000", "clip": false}, "encoding": {"x": {"field": "g1", "type": "nominal", "bandPosition": 1}, "y": {"field": "y", "type": "quantitative"}, "text": {"field": "s"}}},
  {"data": {"name": "ul"}, "mark": {"type": "rule", "strokeWidth": 1.5, "color": "#000", "clip": false}, "encoding": {"x": {"field": "a", "type": "nominal"}, "x2": {"field": "b"}, "y": {"datum": -2.6}}}
 ]},
{"width": 188, "height": 160,
 "title": {"text": "F", "dx": -42, "offset": 3.5},
 "encoding": {"x": {"field": "g", "type": "nominal", "scale": {"domain": ["C","E24","A24","I24","E48","A48","I48"], "range": [0,188], "paddingInner": 0, "paddingOuter": 0.53, "align": 0.3}, "axis": {"title": "After E. coli", "titleX": 104, "ticks": false, "labelPadding": 12.5, "titlePadding": 7, "labelAngle": 0, "labelOverlap": false, "labelExpr": "datum.value=='C'?'C':datum.value=='A24'?'24':datum.value=='A48'?'48 h':''"}}},
 "layer": [
  {"data": {"name": "pts"}, "transform": [{"filter": "datum.p=='F'"}, {"window": [{"op": "row_number", "as": "k"}], "groupby": ["g"]}, {"lookup": "g", "from": {"data": {"name": "conds"}, "key": "g", "fields": ["cond"]}}],
   "mark": {"type": "point", "size": 24, "strokeWidth": 1, "opacity": 1},
   "encoding": {
    "xOffset": {"field": "k", "type": "nominal", "scale": {"type": "point", "domain": [7,5,3,1,2,4,6], "range": [6,18], "padding": 0}},
    "y": {"field": "v", "type": "quantitative", "scale": {"domain": [0,0.6], "nice": false, "zero": false}, "axis": {"title": "BAL fluid protein (mg/ml)", "titlePadding": 10, "tickCount": 30, "values": [0,0.1,0.2,0.3,0.4,0.5,0.6], "labelExpr": "datum.value==0?'0':(round(datum.value*10)%2==0?format(datum.value,'.1f'):'')"}},
    "shape": {"field": "cond", "type": "nominal", "scale": {"domain": ["Control","E. coli","E. coli +anti-IFN-β Ab","E. coli + IgG"], "range": ["circle","triangle-up","triangle-down","triangle-down"]}, "legend": {"title": null, "orient": "none", "legendX": 247, "legendY": -27, "direction": "horizontal", "columns": 4}},
    "stroke": {"field": "cond", "type": "nominal", "scale": {"domain": ["Control","E. coli","E. coli +anti-IFN-β Ab","E. coli + IgG"], "range": ["#000000","#ee3333","#000000","#000000"]}, "legend": {"title": null, "orient": "none", "legendX": 247, "legendY": -27, "direction": "horizontal", "columns": 4}},
    "fill": {"field": "cond", "type": "nominal", "scale": {"domain": ["Control","E. coli","E. coli +anti-IFN-β Ab","E. coli + IgG"], "range": ["transparent","transparent","#000000","transparent"]}, "legend": {"title": null, "orient": "none", "legendX": 247, "legendY": -27, "direction": "horizontal", "columns": 4}}
   }},
  {"data": {"name": "st"}, "transform": [{"filter": "datum.p=='F'"}], "mark": {"type": "tick", "size": 14, "thickness": 1.5, "color": "#000"}, "encoding": {"y": {"field": "m", "type": "quantitative"}}},
  {"data": {"name": "st"}, "transform": [{"filter": "datum.p=='F'"}], "mark": {"type": "rule", "strokeWidth": 1.5, "color": "#000"}, "encoding": {"y": {"field": "lo", "type": "quantitative"}, "y2": {"field": "hi"}}},
  {"data": {"name": "st"}, "transform": [{"filter": "datum.p=='F'"}], "mark": {"type": "tick", "size": 7, "thickness": 1.5, "color": "#000"}, "encoding": {"y": {"field": "lo", "type": "quantitative"}}},
  {"data": {"name": "st"}, "transform": [{"filter": "datum.p=='F'"}], "mark": {"type": "tick", "size": 7, "thickness": 1.5, "color": "#000"}, "encoding": {"y": {"field": "hi", "type": "quantitative"}}},
  {"data": {"name": "sig"}, "transform": [{"filter": "datum.p=='F'"}], "mark": {"type": "rule", "strokeWidth": 2, "color": "#000", "clip": false}, "encoding": {"x": {"field": "g1", "type": "nominal"}, "x2": {"field": "g2"}, "y": {"field": "y", "type": "quantitative"}}},
  {"data": {"name": "sig"}, "transform": [{"filter": "datum.p=='F'"}], "mark": {"type": "text", "fontSize": 15, "baseline": "alphabetic", "dy": 3, "color": "#000", "clip": false}, "encoding": {"x": {"field": "g1", "type": "nominal", "bandPosition": 1}, "y": {"field": "y", "type": "quantitative"}, "text": {"field": "s"}}},
  {"data": {"name": "ul"}, "mark": {"type": "rule", "strokeWidth": 1.5, "color": "#000", "clip": false}, "encoding": {"x": {"field": "a", "type": "nominal"}, "x2": {"field": "b"}, "y": {"datum": -0.026}}}
 ]},
{"width": 243, "height": 160,
 "title": {"text": "G", "dx": -65, "offset": -8},
 "encoding": {"x": {"field": "g", "type": "nominal", "scale": {"domain": ["C","E24","A24","I24","E48","A48","I48"], "range": [0,183], "paddingInner": 0, "paddingOuter": 0.16, "align": 0.56}, "axis": {"title": "After E. coli", "titleX": 104, "ticks": false, "labelPadding": 12.5, "titlePadding": 7, "labelAngle": 0, "labelOverlap": false, "labelExpr": "datum.value=='C'?'C':datum.value=='A24'?'24':datum.value=='A48'?'48 h':''"}}},
 "layer": [
  {"data": {"name": "pts"}, "transform": [{"filter": "datum.p=='G'"}, {"window": [{"op": "row_number", "as": "k"}], "groupby": ["g"]}, {"lookup": "g", "from": {"data": {"name": "conds"}, "key": "g", "fields": ["cond"]}}],
   "mark": {"type": "point", "size": 24, "strokeWidth": 1, "opacity": 1},
   "encoding": {
    "xOffset": {"field": "k", "type": "nominal", "scale": {"type": "point", "domain": [7,5,3,1,2,4,6], "range": [6,18], "padding": 0}},
    "y": {"field": "v", "type": "quantitative", "scale": {"domain": [0,0.8], "nice": false, "zero": false}, "axis": {"title": ["BAL fluid 15-epi-LXA4","(ng/mg protein)"], "titlePadding": 9, "tickCount": 30, "values": [0,0.2,0.4,0.6,0.8], "labelExpr": "datum.value==0?'0':format(datum.value,'.1f')"}},
    "shape": {"field": "cond", "type": "nominal", "scale": {"domain": ["Control","E. coli","E. coli +anti-IFN-β Ab","E. coli + IgG"], "range": ["circle","triangle-up","triangle-down","triangle-down"]}, "legend": {"title": null, "orient": "none", "legendX": 247, "legendY": -27, "direction": "horizontal", "columns": 4}},
    "stroke": {"field": "cond", "type": "nominal", "scale": {"domain": ["Control","E. coli","E. coli +anti-IFN-β Ab","E. coli + IgG"], "range": ["#000000","#ee3333","#000000","#000000"]}, "legend": {"title": null, "orient": "none", "legendX": 247, "legendY": -27, "direction": "horizontal", "columns": 4}},
    "fill": {"field": "cond", "type": "nominal", "scale": {"domain": ["Control","E. coli","E. coli +anti-IFN-β Ab","E. coli + IgG"], "range": ["transparent","transparent","#000000","transparent"]}, "legend": {"title": null, "orient": "none", "legendX": 247, "legendY": -27, "direction": "horizontal", "columns": 4}}
   }},
  {"data": {"name": "st"}, "transform": [{"filter": "datum.p=='G'"}], "mark": {"type": "tick", "size": 14, "thickness": 1.5, "color": "#000"}, "encoding": {"y": {"field": "m", "type": "quantitative"}}},
  {"data": {"name": "st"}, "transform": [{"filter": "datum.p=='G'"}], "mark": {"type": "rule", "strokeWidth": 1.5, "color": "#000"}, "encoding": {"y": {"field": "lo", "type": "quantitative"}, "y2": {"field": "hi"}}},
  {"data": {"name": "st"}, "transform": [{"filter": "datum.p=='G'"}], "mark": {"type": "tick", "size": 7, "thickness": 1.5, "color": "#000"}, "encoding": {"y": {"field": "lo", "type": "quantitative"}}},
  {"data": {"name": "st"}, "transform": [{"filter": "datum.p=='G'"}], "mark": {"type": "tick", "size": 7, "thickness": 1.5, "color": "#000"}, "encoding": {"y": {"field": "hi", "type": "quantitative"}}},
  {"data": {"name": "sig"}, "transform": [{"filter": "datum.p=='G'"}], "mark": {"type": "rule", "strokeWidth": 2, "color": "#000", "clip": false}, "encoding": {"x": {"field": "g1", "type": "nominal"}, "x2": {"field": "g2"}, "y": {"field": "y", "type": "quantitative"}}},
  {"data": {"name": "sig"}, "transform": [{"filter": "datum.p=='G'"}], "mark": {"type": "text", "fontSize": 15, "baseline": "alphabetic", "dy": 3, "color": "#000", "clip": false}, "encoding": {"x": {"field": "g1", "type": "nominal", "bandPosition": 1}, "y": {"field": "y", "type": "quantitative"}, "text": {"field": "s"}}},
  {"data": {"name": "ul"}, "mark": {"type": "rule", "strokeWidth": 1.5, "color": "#000", "clip": false}, "encoding": {"x": {"field": "a", "type": "nominal"}, "x2": {"field": "b"}, "y": {"datum": -0.035}}}
 ]},
{"width": 263, "height": 160,
 "title": {"text": "H", "dx": -53, "offset": -8},
 "encoding": {"x": {"field": "g", "type": "nominal", "scale": {"domain": ["C","E24","A24","I24","E48","A48","I48"], "range": [0,186], "paddingInner": 0, "paddingOuter": 0.22, "align": 0.68}, "axis": {"title": "After E. coli", "titleX": 104, "ticks": false, "labelPadding": 12.5, "titlePadding": 7, "labelAngle": 0, "labelOverlap": false, "labelExpr": "datum.value=='C'?'C':datum.value=='A24'?'24':datum.value=='A48'?'48 h':''"}}},
 "layer": [
  {"data": {"name": "pts"}, "transform": [{"filter": "datum.p=='H'"}, {"window": [{"op": "row_number", "as": "k"}], "groupby": ["g"]}, {"lookup": "g", "from": {"data": {"name": "conds"}, "key": "g", "fields": ["cond"]}}],
   "mark": {"type": "point", "size": 24, "strokeWidth": 1, "opacity": 1},
   "encoding": {
    "xOffset": {"field": "k", "type": "nominal", "scale": {"type": "point", "domain": [7,5,3,1,2,4,6], "range": [6,18], "padding": 0}},
    "y": {"field": "v", "type": "quantitative", "scale": {"domain": [0,0.4], "nice": false, "zero": false}, "axis": {"title": "BAL fluid RvD1 (ng/mg protein)", "titlePadding": 0, "tickCount": 30, "values": [0,0.1,0.2,0.3,0.4], "labelExpr": "datum.value==0?'0':(round(datum.value*10)%2==0?format(datum.value,'.1f'):'')"}},
    "shape": {"field": "cond", "type": "nominal", "scale": {"domain": ["Control","E. coli","E. coli +anti-IFN-β Ab","E. coli + IgG"], "range": ["circle","triangle-up","triangle-down","triangle-down"]}, "legend": {"title": null, "orient": "none", "legendX": 247, "legendY": -27, "direction": "horizontal", "columns": 4}},
    "stroke": {"field": "cond", "type": "nominal", "scale": {"domain": ["Control","E. coli","E. coli +anti-IFN-β Ab","E. coli + IgG"], "range": ["#000000","#ee3333","#000000","#000000"]}, "legend": {"title": null, "orient": "none", "legendX": 247, "legendY": -27, "direction": "horizontal", "columns": 4}},
    "fill": {"field": "cond", "type": "nominal", "scale": {"domain": ["Control","E. coli","E. coli +anti-IFN-β Ab","E. coli + IgG"], "range": ["transparent","transparent","#000000","transparent"]}, "legend": {"title": null, "orient": "none", "legendX": 247, "legendY": -27, "direction": "horizontal", "columns": 4}}
   }},
  {"data": {"name": "st"}, "transform": [{"filter": "datum.p=='H'"}], "mark": {"type": "tick", "size": 14, "thickness": 1.5, "color": "#000"}, "encoding": {"y": {"field": "m", "type": "quantitative"}}},
  {"data": {"name": "st"}, "transform": [{"filter": "datum.p=='H'"}], "mark": {"type": "rule", "strokeWidth": 1.5, "color": "#000"}, "encoding": {"y": {"field": "lo", "type": "quantitative"}, "y2": {"field": "hi"}}},
  {"data": {"name": "st"}, "transform": [{"filter": "datum.p=='H'"}], "mark": {"type": "tick", "size": 7, "thickness": 1.5, "color": "#000"}, "encoding": {"y": {"field": "lo", "type": "quantitative"}}},
  {"data": {"name": "st"}, "transform": [{"filter": "datum.p=='H'"}], "mark": {"type": "tick", "size": 7, "thickness": 1.5, "color": "#000"}, "encoding": {"y": {"field": "hi", "type": "quantitative"}}},
  {"data": {"name": "sig"}, "transform": [{"filter": "datum.p=='H'"}], "mark": {"type": "rule", "strokeWidth": 2, "color": "#000", "clip": false}, "encoding": {"x": {"field": "g1", "type": "nominal"}, "x2": {"field": "g2"}, "y": {"field": "y", "type": "quantitative"}}},
  {"data": {"name": "sig"}, "transform": [{"filter": "datum.p=='H'"}], "mark": {"type": "text", "fontSize": 15, "baseline": "alphabetic", "dy": 3, "color": "#000", "clip": false}, "encoding": {"x": {"field": "g1", "type": "nominal", "bandPosition": 1}, "y": {"field": "y", "type": "quantitative"}, "text": {"field": "s"}}},
  {"data": {"name": "ul"}, "mark": {"type": "rule", "strokeWidth": 1.5, "color": "#000", "clip": false}, "encoding": {"x": {"field": "a", "type": "nominal"}, "x2": {"field": "b"}, "y": {"datum": -0.0175}}}
 ]}
],
"config": {
 "font": "Liberation Sans",
 "view": {"stroke": null},
 "axis": {"domainColor": "#000", "tickColor": "#000", "labelColor": "#000", "titleColor": "#000", "labelFontSize": 12, "titleFontSize": 12.5, "titleFontWeight": "normal", "grid": false, "domainWidth": 1.5, "tickWidth": 1.2, "tickSize": 5, "labelPadding": 4},
 "legend": {"labelFontSize": 12.5, "labelColor": "#000", "symbolSize": 40, "symbolStrokeWidth": 1.5, "columnPadding": 16, "labelOffset": 4, "padding": 0},
 "title": {"fontSize": 17, "fontWeight": "normal", "anchor": "start", "frame": "group", "baseline": "alphabetic", "color": "#000"}
}
}
